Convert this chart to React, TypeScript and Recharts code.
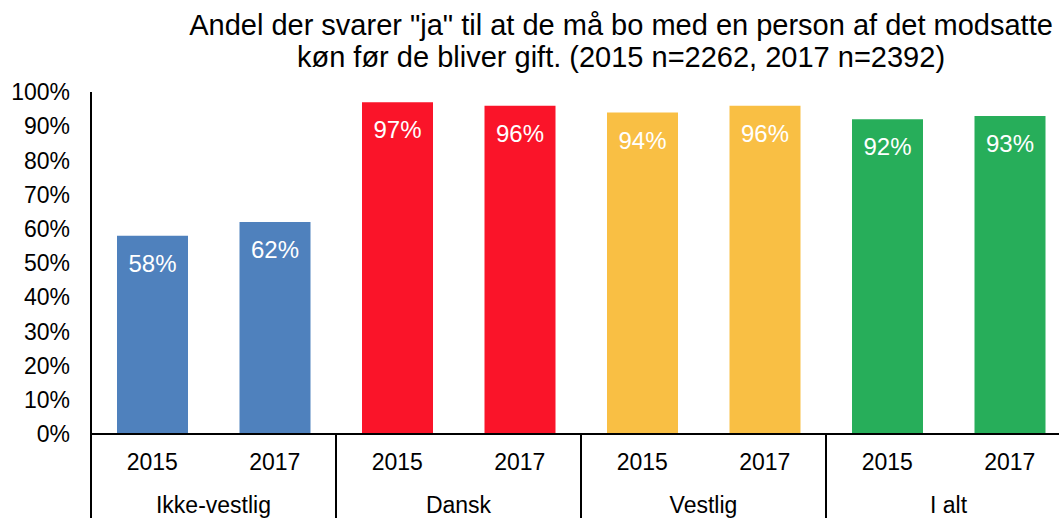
import React from "react";
import { BarChart, Bar, XAxis, YAxis, Cell, LabelList } from "recharts";

const groups = ["Ikke-vestlig", "Dansk", "Vestlig", "I alt"];
const years = ["2015", "2017"];
const groupColors = ["#4F81BD", "#FA1429", "#F9BF44", "#27AE5A"];
const values2015 = [58, 97, 94, 92];
const values2017 = [62, 96, 96, 93];
const yTicks = [0, 10, 20, 30, 40, 50, 60, 70, 80, 90, 100];
const titleLines = [
  'Andel der svarer "ja" til at de må bo med en person af det modsatte',
  "køn før de bliver gift. (2015 n=2262, 2017 n=2392)",
];

const data = groups.flatMap((g, gi) => [
  { key: `${g}-${years[0]}`, group: g, year: years[0], value: values2015[gi], color: groupColors[gi] },
  { key: `${g}-${years[1]}`, group: g, year: years[1], value: values2017[gi], color: groupColors[gi] },
]);

const FONT = "'Liberation Sans', Arial, Helvetica, sans-serif";

const XTick = (props: any) => {
  const { x, y, payload } = props;
  const idx = payload.index ?? 0;
  const off = payload.offset ?? 61;
  const d = data[idx];
  const first = idx % 2 === 0;
  return (
    <g>
      <text x={x} y={y + 36} textAnchor="middle" fontSize={23} fontFamily={FONT} fill="#000">
        {d.year}
      </text>
      {first && (
        <>
          <line x1={x - off} x2={x - off} y1={y} y2={y + 90} stroke="#000" strokeWidth={2} />
          <text x={x + off} y={y + 79} textAnchor="middle" fontSize={23} fontFamily={FONT} fill="#000">
            {d.group}
          </text>
        </>
      )}
    </g>
  );
};

const ValueLabel = (props: any) => {
  const { x, y, width, value } = props;
  return (
    <text x={x + width / 2} y={y + 36} textAnchor="middle" fontSize={24} fontFamily={FONT} fill="#fff">
      {`${value}%`}
    </text>
  );
};

export default function App() {
  return (
    <div
      style={{
        position: "fixed",
        left: 0,
        top: 0,
        width: 1059,
        height: 518,
        overflow: "hidden",
        background: "#fff",
      }}
    >
      <div
        style={{
          position: "absolute",
          left: 121,
          top: 9,
          width: 1000,
          textAlign: "center",
          fontFamily: FONT,
          fontSize: 29,
          lineHeight: "32px",
          color: "#000",
          whiteSpace: "nowrap",
        }}
      >
        <div>{titleLines[0]}</div>
        <div>{titleLines[1]}</div>
      </div>
      <BarChart
        width={1080}
        height={518}
        data={data}
        margin={{ top: 92, right: 9, left: 0, bottom: 0 }}
        barCategoryGap={26}
      >
        <YAxis
          type="number"
          domain={[0, 100]}
          ticks={yTicks}
          interval={0}
          width={91}
          tickFormatter={(v: number) => `${v}%`}
          tickLine={false}
          tickSize={0}
          tickMargin={21}
          axisLine={{ stroke: "#000", strokeWidth: 2 }}
          tick={{ fontSize: 23, fill: "#000", fontFamily: FONT }}
        />
        <XAxis
          dataKey="key"
          interval={0}
          height={84}
          tickLine={false}
          tickSize={0}
          tickMargin={0}
          axisLine={{ stroke: "#000", strokeWidth: 2 }}
          tick={(p: any) => <XTick {...p} />}
        />
        <Bar dataKey="value" isAnimationActive={false}>
          {data.map((d) => (
            <Cell key={d.key} fill={d.color} />
          ))}
          <LabelList dataKey="value" content={(p: any) => <ValueLabel {...p} />} />
        </Bar>
      </BarChart>
    </div>
  );
}
